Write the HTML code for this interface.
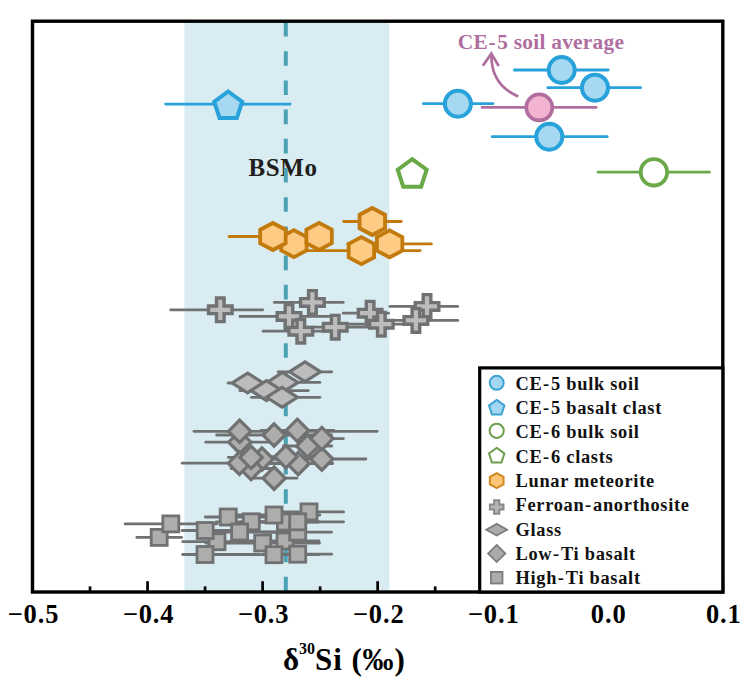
<!DOCTYPE html><html><head><meta charset="utf-8"><style>html,body{margin:0;padding:0;background:#fff;}svg{display:block;}</style></head><body>
<svg width="750" height="681" viewBox="0 0 750 681" font-family='"Liberation Serif", serif' font-weight="bold">
<rect x="0" y="0" width="750" height="681" fill="#ffffff"/>
<rect x="184.4" y="22" width="205" height="569" fill="#d8ecf2"/>
<text x="283" y="176" font-size="25" fill="#231f20" text-anchor="middle" letter-spacing="0.6">BSMo</text>
<line x1="285.8" y1="22" x2="285.8" y2="591" stroke="#4aa2b4" stroke-width="4" stroke-dasharray="14.6 14.6" stroke-dashoffset="0"/>
<line x1="136.80" y1="537.4" x2="181.60" y2="537.4" stroke="#707172" stroke-width="2.8" stroke-linecap="round"/>
<line x1="125.10" y1="523.9" x2="216.90" y2="523.9" stroke="#707172" stroke-width="2.8" stroke-linecap="round"/>
<line x1="182.70" y1="541.7" x2="260.90" y2="541.7" stroke="#707172" stroke-width="2.8" stroke-linecap="round"/>
<line x1="182.10" y1="530.5" x2="257.90" y2="530.5" stroke="#707172" stroke-width="2.8" stroke-linecap="round"/>
<line x1="205.30" y1="517" x2="288.90" y2="517" stroke="#707172" stroke-width="2.8" stroke-linecap="round"/>
<line x1="182.70" y1="554.5" x2="258.90" y2="554.5" stroke="#707172" stroke-width="2.8" stroke-linecap="round"/>
<line x1="216.10" y1="521.8" x2="298.90" y2="521.8" stroke="#707172" stroke-width="2.8" stroke-linecap="round"/>
<line x1="201.10" y1="532" x2="288.90" y2="532" stroke="#707172" stroke-width="2.8" stroke-linecap="round"/>
<line x1="241.10" y1="522" x2="318.90" y2="522" stroke="#707172" stroke-width="2.8" stroke-linecap="round"/>
<line x1="241.10" y1="541" x2="318.90" y2="541" stroke="#707172" stroke-width="2.8" stroke-linecap="round"/>
<line x1="228.10" y1="515" x2="319.90" y2="515" stroke="#707172" stroke-width="2.8" stroke-linecap="round"/>
<line x1="275.10" y1="511.9" x2="343.60" y2="511.9" stroke="#707172" stroke-width="2.8" stroke-linecap="round"/>
<line x1="263.10" y1="532.1" x2="331.60" y2="532.1" stroke="#707172" stroke-width="2.8" stroke-linecap="round"/>
<line x1="252.10" y1="521.8" x2="343.60" y2="521.8" stroke="#707172" stroke-width="2.8" stroke-linecap="round"/>
<line x1="205.80" y1="543" x2="319.60" y2="543" stroke="#707172" stroke-width="2.8" stroke-linecap="round"/>
<line x1="231.10" y1="554.7" x2="318.90" y2="554.7" stroke="#707172" stroke-width="2.8" stroke-linecap="round"/>
<line x1="263.10" y1="554.2" x2="331.60" y2="554.2" stroke="#707172" stroke-width="2.8" stroke-linecap="round"/>
<rect x="151.2" y="529.4" width="16.0" height="16.0" stroke="#707172" stroke-width="2.8" fill="#adadac"/>
<rect x="162.8" y="515.9" width="16.0" height="16.0" stroke="#707172" stroke-width="2.8" fill="#adadac"/>
<rect x="209.0" y="533.7" width="16.0" height="16.0" stroke="#707172" stroke-width="2.8" fill="#adadac"/>
<rect x="197.2" y="522.5" width="16.0" height="16.0" stroke="#707172" stroke-width="2.8" fill="#adadac"/>
<rect x="220.2" y="509.0" width="16.0" height="16.0" stroke="#707172" stroke-width="2.8" fill="#adadac"/>
<rect x="197.0" y="546.5" width="16.0" height="16.0" stroke="#707172" stroke-width="2.8" fill="#adadac"/>
<rect x="243.3" y="513.8" width="16.0" height="16.0" stroke="#707172" stroke-width="2.8" fill="#adadac"/>
<rect x="231.6" y="524.0" width="16.0" height="16.0" stroke="#707172" stroke-width="2.8" fill="#adadac"/>
<rect x="277.4" y="514.0" width="16.0" height="16.0" stroke="#707172" stroke-width="2.8" fill="#adadac"/>
<rect x="277.0" y="533.0" width="16.0" height="16.0" stroke="#707172" stroke-width="2.8" fill="#adadac"/>
<rect x="266.0" y="507.0" width="16.0" height="16.0" stroke="#707172" stroke-width="2.8" fill="#adadac"/>
<rect x="301.0" y="503.9" width="16.0" height="16.0" stroke="#707172" stroke-width="2.8" fill="#adadac"/>
<rect x="289.7" y="524.1" width="16.0" height="16.0" stroke="#707172" stroke-width="2.8" fill="#adadac"/>
<rect x="289.7" y="513.8" width="16.0" height="16.0" stroke="#707172" stroke-width="2.8" fill="#adadac"/>
<rect x="254.7" y="535.0" width="16.0" height="16.0" stroke="#707172" stroke-width="2.8" fill="#adadac"/>
<rect x="266.0" y="546.7" width="16.0" height="16.0" stroke="#707172" stroke-width="2.8" fill="#adadac"/>
<rect x="289.7" y="546.2" width="16.0" height="16.0" stroke="#707172" stroke-width="2.8" fill="#adadac"/>
<line x1="205.70" y1="442.2" x2="273.90" y2="442.2" stroke="#707172" stroke-width="2.8" stroke-linecap="round"/>
<line x1="194.00" y1="431.3" x2="377.10" y2="431.3" stroke="#707172" stroke-width="2.8" stroke-linecap="round"/>
<line x1="241.10" y1="459" x2="282.90" y2="459" stroke="#707172" stroke-width="2.8" stroke-linecap="round"/>
<line x1="231.10" y1="468.5" x2="270.90" y2="468.5" stroke="#707172" stroke-width="2.8" stroke-linecap="round"/>
<line x1="182.20" y1="463.2" x2="296.60" y2="463.2" stroke="#707172" stroke-width="2.8" stroke-linecap="round"/>
<line x1="228.30" y1="457.4" x2="273.90" y2="457.4" stroke="#707172" stroke-width="2.8" stroke-linecap="round"/>
<line x1="283.50" y1="446.0" x2="331.70" y2="446.0" stroke="#707172" stroke-width="2.8" stroke-linecap="round"/>
<line x1="271.10" y1="463.5" x2="332.70" y2="463.5" stroke="#707172" stroke-width="2.8" stroke-linecap="round"/>
<line x1="251.10" y1="456.7" x2="318.90" y2="456.7" stroke="#707172" stroke-width="2.8" stroke-linecap="round"/>
<line x1="275.10" y1="459.0" x2="365.90" y2="459.0" stroke="#707172" stroke-width="2.8" stroke-linecap="round"/>
<line x1="216.60" y1="435.0" x2="331.60" y2="435.0" stroke="#707172" stroke-width="2.8" stroke-linecap="round"/>
<line x1="261.10" y1="430.4" x2="333.90" y2="430.4" stroke="#707172" stroke-width="2.8" stroke-linecap="round"/>
<line x1="297.60" y1="438.6" x2="343.40" y2="438.6" stroke="#707172" stroke-width="2.8" stroke-linecap="round"/>
<line x1="251.10" y1="478.2" x2="296.90" y2="478.2" stroke="#707172" stroke-width="2.8" stroke-linecap="round"/>
<polygon points="239.80,431.00 251.00,442.20 239.80,453.40 228.60,442.20" stroke="#707172" stroke-width="3.2" fill="#adadac" stroke-linejoin="miter"/>
<polygon points="239.70,420.10 250.90,431.30 239.70,442.50 228.50,431.30" stroke="#707172" stroke-width="3.2" fill="#adadac" stroke-linejoin="miter"/>
<polygon points="262.00,447.80 273.20,459.00 262.00,470.20 250.80,459.00" stroke="#707172" stroke-width="3.2" fill="#adadac" stroke-linejoin="miter"/>
<polygon points="251.10,457.30 262.30,468.50 251.10,479.70 239.90,468.50" stroke="#707172" stroke-width="3.2" fill="#adadac" stroke-linejoin="miter"/>
<polygon points="239.40,452.00 250.60,463.20 239.40,474.40 228.20,463.20" stroke="#707172" stroke-width="3.2" fill="#adadac" stroke-linejoin="miter"/>
<polygon points="251.10,446.20 262.30,457.40 251.10,468.60 239.90,457.40" stroke="#707172" stroke-width="3.2" fill="#adadac" stroke-linejoin="miter"/>
<polygon points="307.60,434.80 318.80,446.00 307.60,457.20 296.40,446.00" stroke="#707172" stroke-width="3.2" fill="#adadac" stroke-linejoin="miter"/>
<polygon points="298.20,452.30 309.40,463.50 298.20,474.70 287.00,463.50" stroke="#707172" stroke-width="3.2" fill="#adadac" stroke-linejoin="miter"/>
<polygon points="285.90,445.50 297.10,456.70 285.90,467.90 274.70,456.70" stroke="#707172" stroke-width="3.2" fill="#adadac" stroke-linejoin="miter"/>
<polygon points="321.80,447.80 333.00,459.00 321.80,470.20 310.60,459.00" stroke="#707172" stroke-width="3.2" fill="#adadac" stroke-linejoin="miter"/>
<polygon points="274.10,423.80 285.30,435.00 274.10,446.20 262.90,435.00" stroke="#707172" stroke-width="3.2" fill="#adadac" stroke-linejoin="miter"/>
<polygon points="297.30,419.20 308.50,430.40 297.30,441.60 286.10,430.40" stroke="#707172" stroke-width="3.2" fill="#adadac" stroke-linejoin="miter"/>
<polygon points="321.80,427.40 333.00,438.60 321.80,449.80 310.60,438.60" stroke="#707172" stroke-width="3.2" fill="#adadac" stroke-linejoin="miter"/>
<polygon points="274.10,467.00 285.30,478.20 274.10,489.40 262.90,478.20" stroke="#707172" stroke-width="3.2" fill="#adadac" stroke-linejoin="miter"/>
<line x1="228.10" y1="383" x2="266.90" y2="383" stroke="#707172" stroke-width="2.8" stroke-linecap="round"/>
<line x1="278.10" y1="371.8" x2="331.80" y2="371.8" stroke="#707172" stroke-width="2.8" stroke-linecap="round"/>
<line x1="244.10" y1="382.4" x2="319.90" y2="382.4" stroke="#707172" stroke-width="2.8" stroke-linecap="round"/>
<line x1="239.80" y1="390.6" x2="308.30" y2="390.6" stroke="#707172" stroke-width="2.8" stroke-linecap="round"/>
<line x1="251.50" y1="397.3" x2="319.90" y2="397.3" stroke="#707172" stroke-width="2.8" stroke-linecap="round"/>
<polygon points="247.60,373.10 263.10,383.00 247.60,392.90 232.10,383.00" stroke="#707172" stroke-width="3.2" fill="#bcbcbc" stroke-linejoin="miter"/>
<polygon points="305.00,361.90 320.50,371.80 305.00,381.70 289.50,371.80" stroke="#707172" stroke-width="3.2" fill="#bcbcbc" stroke-linejoin="miter"/>
<polygon points="282.50,372.50 298.00,382.40 282.50,392.30 267.00,382.40" stroke="#707172" stroke-width="3.2" fill="#bcbcbc" stroke-linejoin="miter"/>
<polygon points="266.50,380.70 282.00,390.60 266.50,400.50 251.00,390.60" stroke="#707172" stroke-width="3.2" fill="#bcbcbc" stroke-linejoin="miter"/>
<polygon points="282.00,387.40 297.50,397.30 282.00,407.20 266.50,397.30" stroke="#707172" stroke-width="3.2" fill="#bcbcbc" stroke-linejoin="miter"/>
<line x1="170.70" y1="309.8" x2="262.80" y2="309.8" stroke="#707172" stroke-width="2.8" stroke-linecap="round"/>
<line x1="240.00" y1="316.4" x2="337.90" y2="316.4" stroke="#707172" stroke-width="2.8" stroke-linecap="round"/>
<line x1="274.30" y1="302.4" x2="343.30" y2="302.4" stroke="#707172" stroke-width="2.8" stroke-linecap="round"/>
<line x1="263.10" y1="331.2" x2="338.90" y2="331.2" stroke="#707172" stroke-width="2.8" stroke-linecap="round"/>
<line x1="301.10" y1="327.2" x2="366.90" y2="327.2" stroke="#707172" stroke-width="2.8" stroke-linecap="round"/>
<line x1="343.20" y1="313.2" x2="388.60" y2="313.2" stroke="#707172" stroke-width="2.8" stroke-linecap="round"/>
<line x1="349.10" y1="324.2" x2="418.90" y2="324.2" stroke="#707172" stroke-width="2.8" stroke-linecap="round"/>
<line x1="389.90" y1="306.4" x2="457.70" y2="306.4" stroke="#707172" stroke-width="2.8" stroke-linecap="round"/>
<line x1="376.10" y1="320.4" x2="457.70" y2="320.4" stroke="#707172" stroke-width="2.8" stroke-linecap="round"/>
<polygon points="216.50,298.00 224.10,298.00 224.10,306.00 232.10,306.00 232.10,313.60 224.10,313.60 224.10,321.60 216.50,321.60 216.50,313.60 208.50,313.60 208.50,306.00 216.50,306.00" stroke="#707172" stroke-width="3.4" fill="#bcbcbc" stroke-linejoin="miter"/>
<polygon points="285.20,304.60 292.80,304.60 292.80,312.60 300.80,312.60 300.80,320.20 292.80,320.20 292.80,328.20 285.20,328.20 285.20,320.20 277.20,320.20 277.20,312.60 285.20,312.60" stroke="#707172" stroke-width="3.4" fill="#bcbcbc" stroke-linejoin="miter"/>
<polygon points="308.60,290.60 316.20,290.60 316.20,298.60 324.20,298.60 324.20,306.20 316.20,306.20 316.20,314.20 308.60,314.20 308.60,306.20 300.60,306.20 300.60,298.60 308.60,298.60" stroke="#707172" stroke-width="3.4" fill="#bcbcbc" stroke-linejoin="miter"/>
<polygon points="297.00,319.40 304.60,319.40 304.60,327.40 312.60,327.40 312.60,335.00 304.60,335.00 304.60,343.00 297.00,343.00 297.00,335.00 289.00,335.00 289.00,327.40 297.00,327.40" stroke="#707172" stroke-width="3.4" fill="#bcbcbc" stroke-linejoin="miter"/>
<polygon points="331.40,315.40 339.00,315.40 339.00,323.40 347.00,323.40 347.00,331.00 339.00,331.00 339.00,339.00 331.40,339.00 331.40,331.00 323.40,331.00 323.40,323.40 331.40,323.40" stroke="#707172" stroke-width="3.4" fill="#bcbcbc" stroke-linejoin="miter"/>
<polygon points="366.30,301.40 373.90,301.40 373.90,309.40 381.90,309.40 381.90,317.00 373.90,317.00 373.90,325.00 366.30,325.00 366.30,317.00 358.30,317.00 358.30,309.40 366.30,309.40" stroke="#707172" stroke-width="3.4" fill="#bcbcbc" stroke-linejoin="miter"/>
<polygon points="377.50,312.40 385.10,312.40 385.10,320.40 393.10,320.40 393.10,328.00 385.10,328.00 385.10,336.00 377.50,336.00 377.50,328.00 369.50,328.00 369.50,320.40 377.50,320.40" stroke="#707172" stroke-width="3.4" fill="#bcbcbc" stroke-linejoin="miter"/>
<polygon points="423.20,294.60 430.80,294.60 430.80,302.60 438.80,302.60 438.80,310.20 430.80,310.20 430.80,318.20 423.20,318.20 423.20,310.20 415.20,310.20 415.20,302.60 423.20,302.60" stroke="#707172" stroke-width="3.4" fill="#bcbcbc" stroke-linejoin="miter"/>
<polygon points="412.10,308.60 419.70,308.60 419.70,316.60 427.70,316.60 427.70,324.20 419.70,324.20 419.70,332.20 412.10,332.20 412.10,324.20 404.10,324.20 404.10,316.60 412.10,316.60" stroke="#707172" stroke-width="3.4" fill="#bcbcbc" stroke-linejoin="miter"/>
<line x1="276.10" y1="243.6" x2="310.90" y2="243.6" stroke="#c17a0b" stroke-width="2.8" stroke-linecap="round"/>
<line x1="302.10" y1="250.6" x2="420.20" y2="250.6" stroke="#c17a0b" stroke-width="2.8" stroke-linecap="round"/>
<line x1="343.70" y1="221.5" x2="401.20" y2="221.5" stroke="#c17a0b" stroke-width="2.8" stroke-linecap="round"/>
<line x1="347.70" y1="243.9" x2="431.40" y2="243.9" stroke="#c17a0b" stroke-width="2.8" stroke-linecap="round"/>
<line x1="229.10" y1="236.5" x2="316.30" y2="236.5" stroke="#c17a0b" stroke-width="2.8" stroke-linecap="round"/>
<line x1="307.10" y1="236.4" x2="330.90" y2="236.4" stroke="#c17a0b" stroke-width="2.8" stroke-linecap="round"/>
<polygon points="293.90,230.08 306.63,236.84 306.63,250.36 293.90,257.12 281.17,250.36 281.17,236.84" stroke="#c17a0b" stroke-width="3.8" fill="#fecb85" stroke-linejoin="miter"/>
<polygon points="361.40,237.08 374.13,243.84 374.13,257.36 361.40,264.12 348.67,257.36 348.67,243.84" stroke="#c17a0b" stroke-width="3.8" fill="#fecb85" stroke-linejoin="miter"/>
<polygon points="372.30,207.98 385.03,214.74 385.03,228.26 372.30,235.02 359.57,228.26 359.57,214.74" stroke="#c17a0b" stroke-width="3.8" fill="#fecb85" stroke-linejoin="miter"/>
<polygon points="389.60,230.38 402.33,237.14 402.33,250.66 389.60,257.42 376.87,250.66 376.87,237.14" stroke="#c17a0b" stroke-width="3.8" fill="#fecb85" stroke-linejoin="miter"/>
<polygon points="272.90,222.98 285.63,229.74 285.63,243.26 272.90,250.02 260.17,243.26 260.17,229.74" stroke="#c17a0b" stroke-width="3.8" fill="#fecb85" stroke-linejoin="miter"/>
<polygon points="319.10,222.88 331.83,229.64 331.83,243.16 319.10,249.92 306.37,243.16 306.37,229.64" stroke="#c17a0b" stroke-width="3.8" fill="#fecb85" stroke-linejoin="miter"/>
<polygon points="412.20,159.20 426.66,169.70 421.13,186.70 403.27,186.70 397.74,169.70" stroke="#6aa948" stroke-width="4" fill="#ffffff" stroke-linejoin="miter"/>
<line x1="598.00" y1="172.2" x2="709.30" y2="172.2" stroke="#6aa948" stroke-width="2.8" stroke-linecap="round"/>
<circle cx="653.9" cy="172.3" r="13.2" stroke="#6aa948" stroke-width="3.8" fill="#ffffff"/>
<line x1="165.60" y1="104.1" x2="290.10" y2="104.1" stroke="#27a2da" stroke-width="2.8" stroke-linecap="round"/>
<polygon points="228.20,91.50 242.18,101.66 236.84,118.09 219.56,118.09 214.22,101.66" stroke="#27a2da" stroke-width="4" fill="#a6d8f1" stroke-linejoin="miter"/>
<line x1="514.40" y1="70" x2="608.20" y2="70" stroke="#27a2da" stroke-width="2.8" stroke-linecap="round"/>
<line x1="547.80" y1="87.7" x2="640.60" y2="87.7" stroke="#27a2da" stroke-width="2.8" stroke-linecap="round"/>
<line x1="423.40" y1="103.7" x2="492.90" y2="103.7" stroke="#27a2da" stroke-width="2.8" stroke-linecap="round"/>
<line x1="492.10" y1="136.7" x2="607.20" y2="136.7" stroke="#27a2da" stroke-width="2.8" stroke-linecap="round"/>
<line x1="482.10" y1="107.4" x2="596.20" y2="107.4" stroke="#b06e9f" stroke-width="2.8" stroke-linecap="round"/>
<circle cx="561.7" cy="70" r="13" stroke="#27a2da" stroke-width="4" fill="#a6d8f1"/>
<circle cx="595" cy="87.7" r="13" stroke="#27a2da" stroke-width="4" fill="#a6d8f1"/>
<circle cx="457.9" cy="103.7" r="13" stroke="#27a2da" stroke-width="4" fill="#a6d8f1"/>
<circle cx="549.3" cy="136.7" r="13" stroke="#27a2da" stroke-width="4" fill="#a6d8f1"/>
<circle cx="539.3" cy="107.4" r="13" stroke="#b06e9f" stroke-width="3.7" fill="#f3b4d1"/>
<path d="M518.2,96.5 Q491.5,85 491.4,56" stroke="#b06e9f" stroke-width="2.7" fill="none"/>
<polyline points="482.9,65.7 491.3,53.5 498.8,66.1" stroke="#b06e9f" stroke-width="2.7" fill="none"/>
<text x="457.8" y="48.7" font-size="21.4" fill="#b06e9f" letter-spacing="0.25">CE<tspan dx="0.6">-</tspan><tspan dx="1.2">5 soil average</tspan></text>
<rect x="32.5" y="21.2" width="690.3" height="570.8" fill="none" stroke="#000" stroke-width="3.4"/>
<line x1="32.50" y1="592" x2="32.50" y2="581.2" stroke="#000" stroke-width="2.7"/>
<line x1="147.55" y1="592" x2="147.55" y2="581.2" stroke="#000" stroke-width="2.7"/>
<line x1="262.60" y1="592" x2="262.60" y2="581.2" stroke="#000" stroke-width="2.7"/>
<line x1="377.65" y1="592" x2="377.65" y2="581.2" stroke="#000" stroke-width="2.7"/>
<line x1="492.70" y1="592" x2="492.70" y2="581.2" stroke="#000" stroke-width="2.7"/>
<line x1="607.75" y1="592" x2="607.75" y2="581.2" stroke="#000" stroke-width="2.7"/>
<line x1="722.80" y1="592" x2="722.80" y2="581.2" stroke="#000" stroke-width="2.7"/>
<line x1="90.03" y1="592" x2="90.03" y2="586.4" stroke="#000" stroke-width="2.7"/>
<line x1="205.07" y1="592" x2="205.07" y2="586.4" stroke="#000" stroke-width="2.7"/>
<line x1="320.12" y1="592" x2="320.12" y2="586.4" stroke="#000" stroke-width="2.7"/>
<line x1="435.18" y1="592" x2="435.18" y2="586.4" stroke="#000" stroke-width="2.7"/>
<line x1="550.23" y1="592" x2="550.23" y2="586.4" stroke="#000" stroke-width="2.7"/>
<line x1="665.27" y1="592" x2="665.27" y2="586.4" stroke="#000" stroke-width="2.7"/>
<text x="33.50" y="623" font-size="26.5" text-anchor="middle" fill="#000" letter-spacing="0.9">−0.5</text>
<text x="148.55" y="623" font-size="26.5" text-anchor="middle" fill="#000" letter-spacing="0.9">−0.4</text>
<text x="263.60" y="623" font-size="26.5" text-anchor="middle" fill="#000" letter-spacing="0.9">−0.3</text>
<text x="378.65" y="623" font-size="26.5" text-anchor="middle" fill="#000" letter-spacing="0.9">−0.2</text>
<text x="493.70" y="623" font-size="26.5" text-anchor="middle" fill="#000" letter-spacing="0.9">−0.1</text>
<text x="608.75" y="623" font-size="26.5" text-anchor="middle" fill="#000" letter-spacing="0.9">0.0</text>
<text x="723.80" y="623" font-size="26.5" text-anchor="middle" fill="#000" letter-spacing="0.9">0.1</text>
<text x="283" y="669.5" font-size="31" fill="#000">&#948;<tspan font-size="16" dy="-16">30</tspan><tspan dy="16" letter-spacing="0.9">Si (&#8240;)</tspan></text>
<rect x="479.7" y="367.9" width="243.1" height="224.1" fill="#fff" stroke="#000" stroke-width="3.2"/>
<circle cx="496.7" cy="382.8" r="7.0" stroke="#3aa3d4" stroke-width="2" fill="#a3d6f0"/>
<polygon points="496.70,399.90 504.40,405.50 501.46,414.55 491.94,414.55 489.00,405.50" stroke="#3aa3d4" stroke-width="2" fill="#a3d6f0" stroke-linejoin="miter"/>
<circle cx="496.7" cy="430.8" r="7.1" stroke="#6e9f4e" stroke-width="2" fill="#ffffff"/>
<polygon points="496.70,447.90 504.40,453.50 501.46,462.55 491.94,462.55 489.00,453.50" stroke="#6e9f4e" stroke-width="2" fill="#ffffff" stroke-linejoin="miter"/>
<polygon points="496.70,473.10 503.54,476.85 503.54,484.35 496.70,488.11 489.86,484.35 489.86,476.85" stroke="#d08a20" stroke-width="2" fill="#fcc57a" stroke-linejoin="miter"/>
<polygon points="494.10,500.20 499.30,500.20 499.30,504.40 503.50,504.40 503.50,509.60 499.30,509.60 499.30,513.80 494.10,513.80 494.10,509.60 489.90,509.60 489.90,504.40 494.10,504.40" stroke="#8a8a8a" stroke-width="2" fill="#b5b5b5" stroke-linejoin="miter"/>
<polygon points="496.70,523.90 507.10,529.70 496.70,535.50 486.30,529.70" stroke="#7d7d7d" stroke-width="1.8" fill="#ababab" stroke-linejoin="miter"/>
<polygon points="496.70,544.90 505.30,553.50 496.70,562.10 488.10,553.50" stroke="#7d7d7d" stroke-width="1.8" fill="#ababab" stroke-linejoin="miter"/>
<rect x="490.9" y="571.9000000000001" width="11.6" height="11.6" stroke="#7d7d7d" stroke-width="1.8" fill="#ababab"/>
<text x="515.5" y="389.60" font-size="18.4" fill="#111" letter-spacing="0.7">CE<tspan dx="0.6">-</tspan><tspan dx="1.2">5 bulk soil</tspan></text>
<text x="515.5" y="413.95" font-size="18.4" fill="#111" letter-spacing="0.7">CE<tspan dx="0.6">-</tspan><tspan dx="1.2">5 basalt clast</tspan></text>
<text x="515.5" y="438.30" font-size="18.4" fill="#111" letter-spacing="0.7">CE<tspan dx="0.6">-</tspan><tspan dx="1.2">6 bulk soil</tspan></text>
<text x="515.5" y="462.65" font-size="18.4" fill="#111" letter-spacing="0.7">CE<tspan dx="0.6">-</tspan><tspan dx="1.2">6 clasts</tspan></text>
<text x="515.5" y="487.00" font-size="18.4" fill="#111" letter-spacing="0.7">Lunar meteorite</text>
<text x="515.5" y="511.35" font-size="18.4" fill="#111" letter-spacing="0.7">Ferroan<tspan dx="0.6">-</tspan><tspan dx="1.2">anorthosite</tspan></text>
<text x="515.5" y="535.70" font-size="18.4" fill="#111" letter-spacing="0.7">Glass</text>
<text x="515.5" y="560.05" font-size="18.4" fill="#111" letter-spacing="0.7">Low<tspan dx="0.6">-</tspan><tspan dx="1.2">Ti basalt</tspan></text>
<text x="515.5" y="584.40" font-size="18.4" fill="#111" letter-spacing="0.7">High<tspan dx="0.6">-</tspan><tspan dx="1.2">Ti basalt</tspan></text>
</svg></body></html>
